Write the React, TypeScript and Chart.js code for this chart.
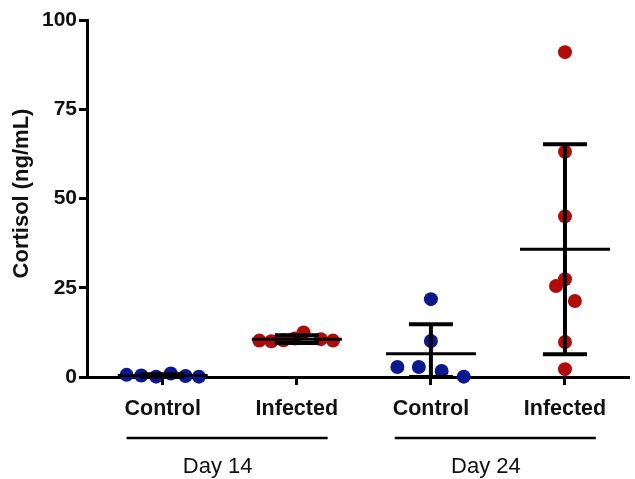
import React, { useEffect, useRef } from "react";
import { Chart, registerables } from "chart.js";

Chart.register(...registerables);

// Category tick labels (x positions 0..3)
const categories = ["Control", "Infected", "Control", "Infected"];
const groupLabels = ["Day 14", "Day 24"];
const groupSpans = [
  [0, 1],
  [2, 3],
];
const yTicks = [0, 25, 50, 75, 100];

// Individual values (ng/mL) and horizontal jitter (category units)
const d14ControlValues = [0.6, 0.4, 0.1, 1.0, 0.3, 0.1];
const d14ControlJitter = [-0.27, -0.16, -0.05, 0.06, 0.17, 0.27];
const d14InfectedValues = [10.2, 10.0, 10.3, 10.8, 12.5, 10.6, 10.2];
const d14InfectedJitter = [-0.28, -0.19, -0.1, -0.015, 0.05, 0.18, 0.27];
const d24ControlValues = [21.8, 10.1, 2.8, 2.8, 1.7, 0.1];
const d24ControlJitter = [0, 0, -0.25, -0.09, 0.08, 0.245];
const d24InfectedValues = [91, 63.1, 45, 27.4, 25.5, 21.3, 9.8, 2.2];
const d24InfectedJitter = [0, 0, 0, 0, -0.067, 0.074, 0, 0];

// Summary (mean ± SD) per category
const means = [0.45, 10.6, 6.5, 35.8];
const sds = [0.3, 1.1, 8.3, 29.4];

const BLUE = "#0c1890";
const RED = "#b00c0c";
const FONT = "'Liberation Sans', Arial, sans-serif";

function toPoints(values: number[], jitter: number[], idx: number) {
  return values.map((v, i) => ({ x: idx + jitter[i], y: v }));
}

const errorBarPlugin = {
  id: "errorBars",
  afterDatasetsDraw(chart: any) {
    const { ctx, scales } = chart;
    const xs = scales.x;
    const ys = scales.y;
    ctx.save();
    ctx.strokeStyle = "#000";
    ctx.lineCap = "butt";
    means.forEach((m, i) => {
      const cx = xs.getPixelForValue(i);
      const yMean = ys.getPixelForValue(m);
      const yHi = ys.getPixelForValue(m + sds[i]);
      const yLo = ys.getPixelForValue(Math.max(0, m - sds[i]));
      ctx.lineWidth = 4;
      ctx.beginPath();
      ctx.moveTo(cx, yLo);
      ctx.lineTo(cx, yHi);
      ctx.stroke();
      ctx.lineWidth = 4;
      ctx.beginPath();
      ctx.moveTo(cx - 22, yHi);
      ctx.lineTo(cx + 22, yHi);
      ctx.moveTo(cx - 22, yLo);
      ctx.lineTo(cx + 22, yLo);
      ctx.stroke();
      ctx.lineWidth = 3;
      ctx.beginPath();
      ctx.moveTo(cx - 45, yMean);
      ctx.lineTo(cx + 45, yMean);
      ctx.stroke();
    });
    ctx.restore();
  },
  afterDraw(chart: any) {
    const { ctx, scales, chartArea } = chart;
    const xs = scales.x;
    ctx.save();
    // group lines and labels
    ctx.strokeStyle = "#000";
    ctx.lineWidth = 2.5;
    ctx.fillStyle = "#111";
    ctx.font = `22px ${FONT}`;
    ctx.textAlign = "center";
    ctx.textBaseline = "middle";
    groupSpans.forEach((g, i) => {
      const x0 = xs.getPixelForValue(g[0] - 0.27);
      const x1 = xs.getPixelForValue(g[1] + 0.23);
      ctx.beginPath();
      ctx.moveTo(x0, 438);
      ctx.lineTo(x1, 438);
      ctx.stroke();
      const lx = xs.getPixelForValue((g[0] + g[1]) / 2 - 0.09);
      ctx.fillText(groupLabels[i], lx, 467);
    });
    // y axis title
    ctx.font = `bold 22px ${FONT}`;
    ctx.translate(22, (chartArea.top + chartArea.bottom) / 2 - 5);
    ctx.rotate(-Math.PI / 2);
    ctx.fillText("Cortisol (ng/mL)", 0, 0);
    ctx.restore();
  },
};

export default function App() {
  const ref = useRef<HTMLCanvasElement>(null);
  useEffect(() => {
    if (!ref.current) return;
    const mk = (values: number[], jitter: number[], idx: number, color: string) => ({
      data: toPoints(values, jitter, idx),
      backgroundColor: color,
      borderColor: color,
      borderWidth: 0,
      pointRadius: 7,
      pointHoverRadius: 7,
      clip: false as any,
    });
    const chart = new Chart(ref.current, {
      type: "scatter",
      data: {
        datasets: [
          mk(d14ControlValues, d14ControlJitter, 0, BLUE),
          mk(d14InfectedValues, d14InfectedJitter, 1, RED),
          mk(d24ControlValues, d24ControlJitter, 2, BLUE),
          mk(d24InfectedValues, d24InfectedJitter, 3, RED),
        ],
      },
      options: {
        animation: false,
        responsive: false,
        events: [],
        layout: { padding: { top: 20, right: 5, left: 0, bottom: 0 } },
        plugins: { legend: { display: false }, tooltip: { enabled: false } },
        scales: {
          x: {
            type: "linear",
            min: -0.565,
            max: 3.47,
            afterBuildTicks: (scale: any) => {
              scale.ticks = categories.map((_, i) => ({ value: i }));
            },
            afterFit: (scale: any) => {
              scale.height = 102;
            },
            ticks: {
              autoSkip: false,
              maxRotation: 0,
              padding: 11,
              color: "#111",
              font: { family: FONT, size: 21.5, weight: "bold" },
              callback: (_v: any, i: number) => categories[i],
            },
            grid: {
              drawOnChartArea: false,
              drawTicks: true,
              tickLength: 8,
              lineWidth: 3,
              color: "#000",
            },
            border: { display: true, width: 3, color: "#000" },
          },
          y: {
            min: 0,
            max: 100,
            afterBuildTicks: (scale: any) => {
              scale.ticks = yTicks.map((v) => ({ value: v }));
            },
            afterFit: (scale: any) => {
              scale.width = 87;
            },
            ticks: {
              padding: 2,
              color: "#111",
              font: { family: FONT, size: 21, weight: "bold" },
            },
            grid: {
              drawOnChartArea: false,
              drawTicks: true,
              tickLength: 8,
              lineWidth: 3,
              color: "#000",
            },
            border: { display: true, width: 3, color: "#000" },
          },
        },
      },
      plugins: [errorBarPlugin],
    });
    return () => chart.destroy();
  }, []);
  return (
    <div style={{ position: "fixed", left: 0, top: 0, width: 635, height: 479, background: "#fff" }}>
      <canvas ref={ref} width={635} height={479} />
    </div>
  );
}
